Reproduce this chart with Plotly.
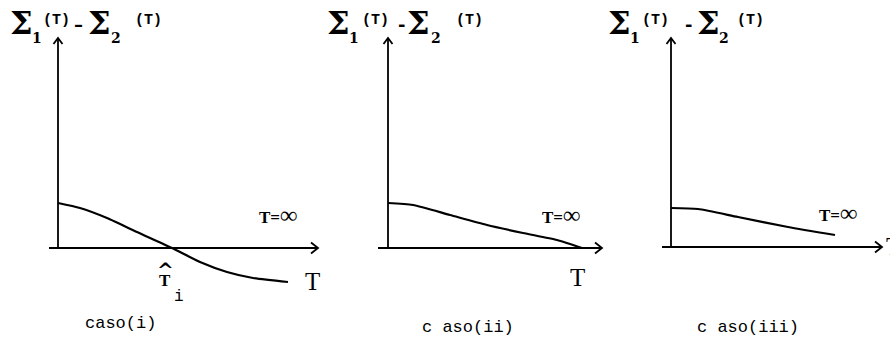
import plotly.graph_objects as go

# Curves for the three cases: Sigma1(T) - Sigma2(T) against T
t_case1 = [0, 2.2, 4.9, 7.9, 11.4, 14.2, 16.9, 19.5, 23.0]
d_case1 = [4.5, 4.0, 3.0, 1.6, 0.0, -1.4, -2.4, -3.0, -3.4]

t_case2 = [0, 2.5, 6.2, 9.9, 13.5, 16.9, 19.4]
d_case2 = [4.5, 4.3, 3.3, 2.3, 1.5, 0.8, 0.0]

t_case3 = [0, 2.7, 6.7, 11.7, 16.4]
d_case3 = [3.9, 3.8, 3.0, 2.0, 1.2]

case_labels = ["caso(i)", "c aso(ii)", "c aso(iii)"]

# Axis extents (data units) for each panel: x start, x arrow tip, y arrow tip
h_axis = [(-0.9, 26.0), (-1.0, 21.4), (-0.9, 21.1)]
v_top = [21.0, 21.0, 20.9]

W, H = 890, 338
# panel layout: paper-pixel domain and pixel origin of the axes
panels = [
    dict(px0=0, px1=330, ox=58, oy=248),
    dict(px0=330, px1=625, ox=388, oy=248),
    dict(px0=625, px1=890, ox=671, oy=247),
]
SCALE = 10.0  # pixels per data unit

fig = go.Figure()
curves = [(t_case1, d_case1), (t_case2, d_case2), (t_case3, d_case3)]
line_style = dict(color="black", width=2.2)
axis_style = dict(color="black", width=1.8)

for i, p in enumerate(panels):
    xa = "x" if i == 0 else f"x{i+1}"
    ya = "y" if i == 0 else f"y{i+1}"
    t, d = curves[i]
    fig.add_trace(go.Scatter(x=t, y=d, mode="lines", line=dict(shape="spline", smoothing=0.6, **line_style),
                             xaxis=xa, yaxis=ya, hoverinfo="skip"))
    x0, xt = h_axis[i]
    yt = v_top[i]
    # horizontal axis with open arrowhead
    fig.add_trace(go.Scatter(x=[x0, xt], y=[0, 0], mode="lines", line=axis_style, xaxis=xa, yaxis=ya, hoverinfo="skip"))
    fig.add_trace(go.Scatter(x=[xt - 0.7, xt, xt - 0.7], y=[0.55, 0, -0.55], mode="lines", line=axis_style,
                             xaxis=xa, yaxis=ya, hoverinfo="skip"))
    # vertical axis with open arrowhead
    fig.add_trace(go.Scatter(x=[0, 0], y=[0, yt], mode="lines", line=axis_style, xaxis=xa, yaxis=ya, hoverinfo="skip"))
    fig.add_trace(go.Scatter(x=[-0.45, 0, 0.45], y=[yt - 0.6, yt, yt - 0.6], mode="lines", line=axis_style,
                             xaxis=xa, yaxis=ya, hoverinfo="skip"))

layout = dict(width=W, height=H, margin=dict(l=0, r=0, t=0, b=0), showlegend=False,
              plot_bgcolor="white", paper_bgcolor="white")
for i, p in enumerate(panels):
    key = "" if i == 0 else str(i + 1)
    xr = [(p["px0"] - p["ox"]) / SCALE, (p["px1"] - p["ox"]) / SCALE]
    yr = [(p["oy"] - H) / SCALE, p["oy"] / SCALE]
    layout["xaxis" + key] = dict(domain=[p["px0"] / W, p["px1"] / W], range=xr, visible=False,
                                 anchor="y" + key)
    layout["yaxis" + key] = dict(domain=[0, 1], range=yr, visible=False, anchor="x" + key)
fig.update_layout(**layout)

serif = "Liberation Serif"
bold_serif = "DejaVu Serif"
mono = "Liberation Mono"
ann = []


def paper_text(px, py, text, size, family, xanchor="center"):
    return dict(x=px / W, y=1 - py / H, xref="paper", yref="paper", text=text, showarrow=False,
                xanchor=xanchor, yanchor="middle", font=dict(family=family, size=size, color="black"))


# y-axis titles: Σ1(T) – Σ2(T), pieces placed at pixel centres
title_pieces = [
    [(21, 23, "Σ"), (37, 38, "1"), (57, 21, "(T)"), (78, 24, "–"), (99, 23, "Σ"), (116, 38, "2"), (148, 21, "(T)")],
    [(338, 23, "Σ"), (354, 38, "1"), (375, 21, "(T)"), (401, 24, "-"), (418, 23, "Σ"), (436, 38, "2"), (469, 21, "(T)")],
    [(619, 23, "Σ"), (635, 38, "1"), (655, 21, "(T)"), (688, 24, "-"), (708, 23, "Σ"), (724, 38, "2"), (750, 21, "(T)")],
]
for pieces in title_pieces:
    for px, py, txt in pieces:
        if txt == "Σ":
            ann.append(paper_text(px, py, "<b>Σ</b>", 32, bold_serif))
        elif txt in ("1", "2"):
            ann.append(paper_text(px, py, f"<b>{txt}</b>", 14, bold_serif))
        elif txt == "(T)":
            ann.append(paper_text(px, py, "<b>(T)</b>", 15, "Liberation Mono"))
        else:
            ann.append(paper_text(px, py, f"<b>{txt}</b>", 18, bold_serif))

inf_center = [(278, 215), (561, 215), (838, 213)]
label_center = [(120, 323), (468, 327), (748, 327)]
t_label = [(312, 281), (577, 277), (884, 247)]
for i, p in enumerate(panels):
    cx, cy = inf_center[i]
    ann.append(paper_text(cx, cy, "<b>T=<span style='font-size:24px'>∞</span></b>", 17, serif))
    lx, ly = label_center[i]
    ann.append(paper_text(lx, ly, case_labels[i], 17, mono))
    tx, ty = t_label[i]
    ann.append(paper_text(tx, ty, "T", 25, serif, xanchor="left" if i == 2 else "center"))

# crossing point label in case (i)
ann.append(paper_text(165, 280, "<b>T</b>", 17, serif))
ann.append(paper_text(165, 270, "<b>^</b>", 20, bold_serif))
ann.append(paper_text(179, 297, "i", 16, mono))
fig.update_layout(annotations=ann)

fig.write_html("out.html")
